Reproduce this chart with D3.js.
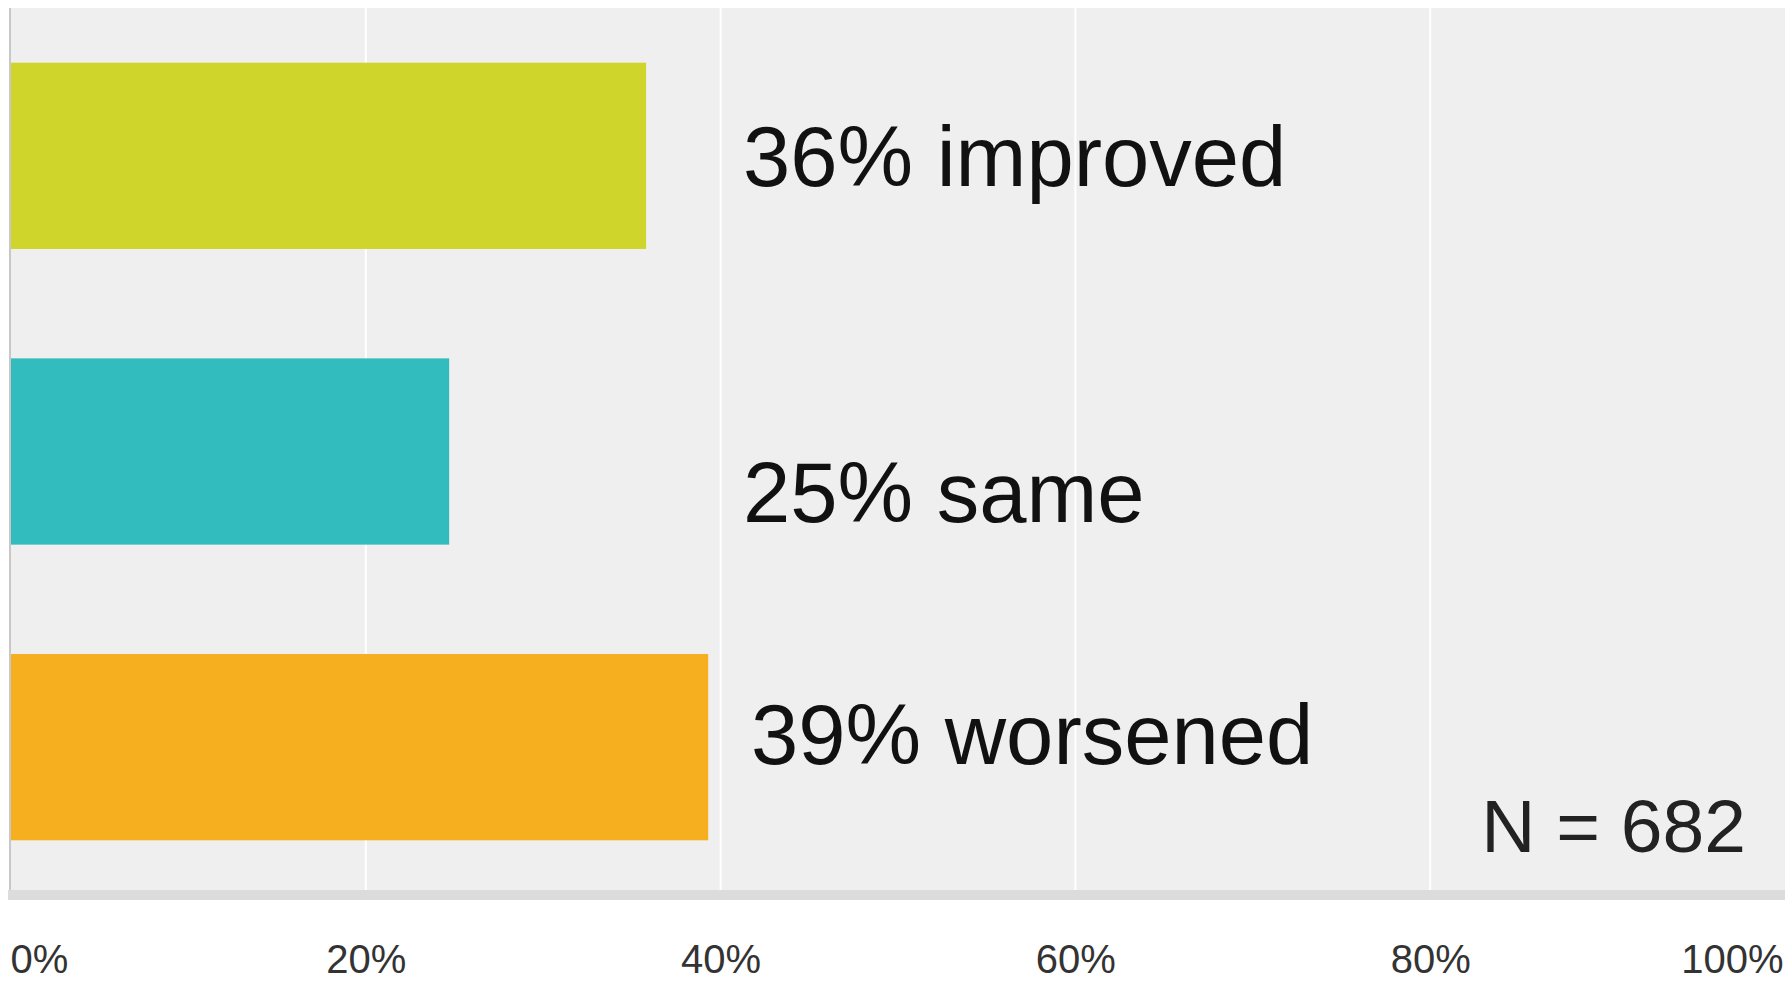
<!DOCTYPE html>
<html>
<head>
<meta charset="utf-8">
<script src="https://cdn.jsdelivr.net/npm/d3@7"></script>
<style>
  html, body { margin: 0; padding: 0; background: #fff; }
  svg { display: block; font-family: "Liberation Sans", Arial, sans-serif; }
</style>
</head>
<body>
<svg id="chart" width="1789" height="982"></svg>
<script>
// data
var categories = ["improved", "same", "worsened"];
var shares = [35.8, 24.7, 39.3];
var xTicks = [0, 20, 40, 60, 80, 100];
var sampleNote = "N = 682";

var colors = ["#cfd52a", "#33bcbd", "#f5af1f"];

var plot = { left: 11, right: 1785, top: 8, bottom: 890 };

var svg = d3.select("#chart");

var x = d3.scaleLinear().domain([0, 100]).range([plot.left, plot.right]);
var y = d3.scaleBand().domain(categories).range([plot.top, 895])
    .paddingInner(0.37).paddingOuter(0.185);

// background of the plot area
svg.append("rect")
    .attr("x", plot.left).attr("y", plot.top)
    .attr("width", plot.right - plot.left).attr("height", plot.bottom - plot.top)
    .attr("fill", "#efefef");

// white vertical gridlines
svg.append("g")
    .selectAll("line")
    .data(xTicks.slice(1, -1))
    .join("line")
    .attr("x1", function(d) { return x(d); })
    .attr("x2", function(d) { return x(d); })
    .attr("y1", plot.top).attr("y2", plot.bottom)
    .attr("stroke", "#ffffff").attr("stroke-width", 2);

// bars
svg.append("g")
    .selectAll("rect")
    .data(categories)
    .join("rect")
    .attr("x", x(0))
    .attr("y", function(d) { return y(d); })
    .attr("width", function(d, i) { return x(shares[i]) - x(0); })
    .attr("height", y.bandwidth())
    .attr("fill", function(d, i) { return colors[i]; });

// left border and bottom axis band
svg.append("rect")
    .attr("x", plot.left - 2).attr("y", plot.top)
    .attr("width", 2).attr("height", plot.bottom - plot.top)
    .attr("fill", "#c8c8c8");
svg.append("rect")
    .attr("x", plot.left - 3).attr("y", plot.bottom)
    .attr("width", plot.right - plot.left + 3).attr("height", 10)
    .attr("fill", "#dcdcdc");

// tick labels
var axis = svg.append("g")
    .attr("transform", "translate(0," + 973 + ")")
    .call(d3.axisBottom(x).tickValues(xTicks).tickSize(0).tickPadding(0)
        .tickFormat(function(d) { return d + "%"; }));
axis.select(".domain").remove();
axis.selectAll("text")
    .attr("dy", 0)
    .attr("font-size", 40)
    .attr("font-family", "Liberation Sans, Arial, sans-serif")
    .attr("fill", "#333")
    .attr("text-anchor", function(d, i) {
        return i === 0 ? "start" : (i === xTicks.length - 1 ? "end" : "middle");
    })
    .attr("x", function(d, i) {
        return i === 0 ? -1 : (i === xTicks.length - 1 ? -2 : 0);
    });

// annotations next to the bars
var labelShift = [30, 70, 17];
svg.append("g")
    .selectAll("text")
    .data(categories)
    .join("text")
    .attr("x", function(d, i) { return i === 2 ? 751 : 743; })
    .attr("y", function(d, i) { return y(d) + y.bandwidth() / 2 + labelShift[i]; })
    .attr("font-size", 85)
    .attr("fill", "#111")
    .text(function(d, i) { return Math.round(shares[i]) + "% " + d; });

svg.append("text")
    .attr("x", 1746).attr("y", 852)
    .attr("text-anchor", "end")
    .attr("font-size", 75)
    .attr("fill", "#222")
    .text(sampleNote);
</script>
</body>
</html>
